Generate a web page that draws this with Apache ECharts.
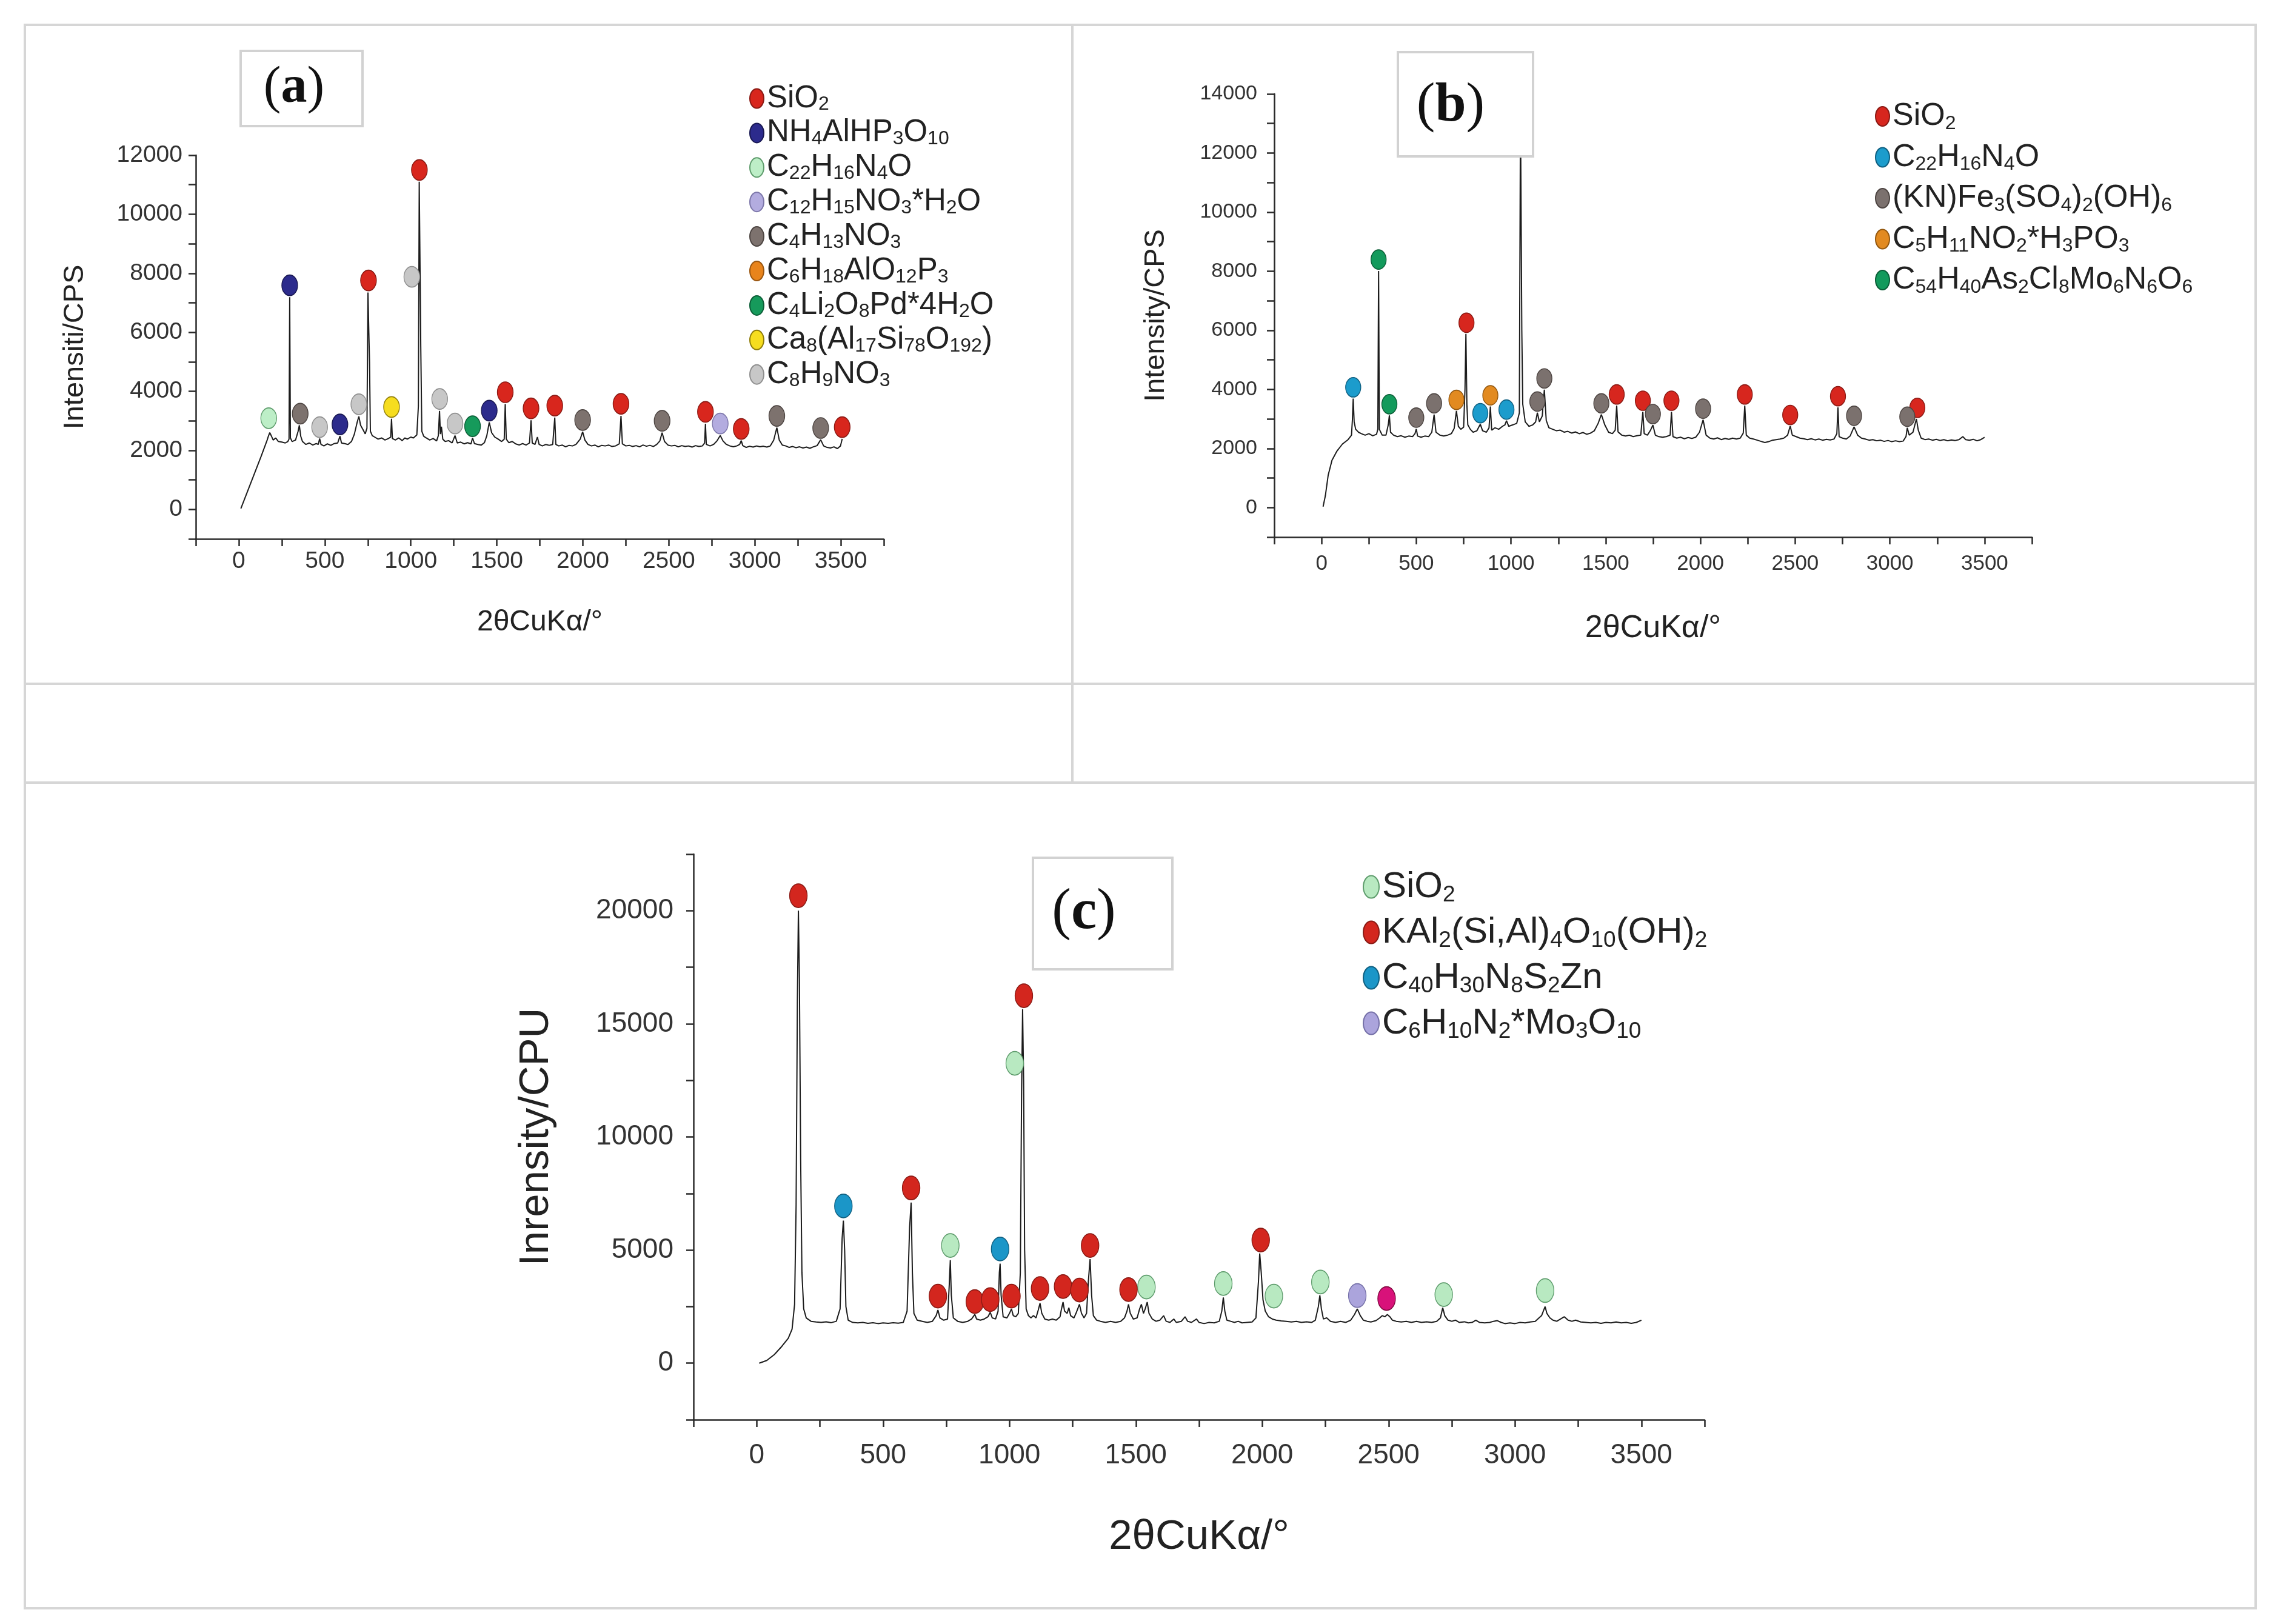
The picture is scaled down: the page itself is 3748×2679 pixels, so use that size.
<!DOCTYPE html>
<html>
<head>
<meta charset="utf-8">
<script src="https://cdn.jsdelivr.net/npm/echarts@6/dist/echarts.min.js"></script>
<style>
html,body{margin:0;padding:0;background:#fff;}
#chart{width:3748px;height:2679px;}
</style>
</head>
<body>
<div id="chart"></div>
<script>
// ---------------- DATA ----------------
// tick labels
const xTickLabels = [0, 500, 1000, 1500, 2000, 2500, 3000, 3500];
const aYTickLabels = [0, 2000, 4000, 6000, 8000, 10000, 12000];
const bYTickLabels = [0, 2000, 4000, 6000, 8000, 10000, 12000, 14000];
const cYTickLabels = [0, 5000, 10000, 15000, 20000];

// Panel (a) diffraction pattern [2θ, intensity]
const aPattern = [[12,30],[50,600],[90,1200],[130,1800],[165,2350],[172,2480],[180,2600],[190,2480],[200,2350],[215,2420],[230,2300],[250,2280],[270,2250],[285,2300],[292,2380],[296,7190],[300,2420],[310,2300],[330,2350],[345,2650],[352,2850],[360,2480],[370,2300],[390,2200],[410,2250],[430,2180],[450,2230],[462,2200],[470,2400],[478,2200],[495,2150],[515,2220],[535,2170],[555,2230],[575,2250],[588,2480],[597,2250],[615,2230],[635,2200],[655,2300],[672,2550],[688,2950],[698,3150],[708,2850],[722,2700],[735,2560],[745,2750],[751,7350],[756,6000],[760,5000],[765,2650],[776,2500],[790,2450],[810,2380],[830,2420],[850,2350],[870,2400],[883,2450],[888,3070],[893,2400],[910,2350],[930,2420],[950,2330],[965,2420],[980,2380],[1000,2450],[1015,2420],[1035,2520],[1044,3500],[1049,11100],[1054,8000],[1058,5500],[1064,2650],[1075,2480],[1090,2420],[1110,2350],[1130,2400],[1150,2320],[1160,2500],[1167,3340],[1172,2550],[1178,2800],[1186,2380],[1200,2300],[1220,2330],[1240,2250],[1257,2500],[1270,2250],[1290,2280],[1310,2220],[1330,2260],[1350,2220],[1359,2420],[1370,2230],[1390,2200],[1410,2180],[1428,2260],[1442,2500],[1456,2950],[1470,2600],[1488,2450],[1508,2380],[1528,2300],[1543,2380],[1549,3570],[1555,2380],[1570,2260],[1590,2300],[1610,2220],[1630,2180],[1650,2230],[1670,2180],[1690,2250],[1699,3020],[1706,2250],[1722,2200],[1736,2450],[1746,2200],[1765,2150],[1785,2200],[1805,2170],[1825,2200],[1837,3110],[1843,2200],[1860,2150],[1880,2180],[1900,2120],[1920,2170],[1940,2150],[1960,2200],[1985,2380],[1999,2630],[2012,2350],[2030,2200],[2050,2150],[2070,2180],[2090,2120],[2110,2170],[2130,2150],[2150,2180],[2170,2130],[2190,2150],[2212,2220],[2222,3170],[2230,2220],[2250,2150],[2270,2170],[2290,2130],[2310,2160],[2330,2120],[2350,2180],[2370,2140],[2390,2170],[2410,2130],[2430,2200],[2448,2320],[2461,2600],[2475,2300],[2495,2180],[2515,2150],[2535,2170],[2555,2120],[2575,2160],[2595,2130],[2615,2150],[2635,2110],[2655,2160],[2675,2130],[2695,2150],[2708,2250],[2713,2900],[2718,2200],[2740,2150],[2760,2200],[2780,2320],[2799,2500],[2815,2320],[2835,2200],[2855,2150],[2875,2120],[2895,2150],[2912,2200],[2921,2330],[2930,2160],[2950,2100],[2970,2140],[2990,2110],[3010,2150],[3030,2120],[3050,2140],[3070,2110],[3090,2150],[3110,2350],[3128,2770],[3142,2350],[3160,2180],[3180,2150],[3200,2100],[3220,2130],[3240,2090],[3260,2120],[3280,2080],[3300,2110],[3320,2070],[3340,2120],[3362,2160],[3383,2360],[3400,2150],[3420,2100],[3440,2080],[3460,2120],[3480,2060],[3498,2150],[3508,2390]];

// Panel (a) phase markers [2θ, intensity]
const aSiO2 = [[754,7758],[1050,11500],[1549,3970],[1699,3424],[1837,3515],[2222,3576],[2713,3303],[2921,2727],[3508,2788]];
const aNH4AlHP3O10 = [[296,7591],[588,2879],[1456,3348]];
const aC22H16N4O = [[174,3091]];
const aC12H15NO3H2O = [[2799,2909]];
const aC4H13NO3 = [[357,3242],[1999,3030],[2461,3000],[3128,3167],[3383,2758]];
const aC6H18AlO12P3 = [];
const aC4Li2O8Pd = [[1359,2818]];
const aCa8 = [[888,3470]];
const aC8H9NO3 = [[470,2788],[698,3561],[1006,7879],[1168,3742],[1257,2909]];

// Panel (b) diffraction pattern
const bPattern = [[8,30],[20,400],[35,1100],[55,1600],[80,1900],[110,2150],[140,2300],[158,2450],[163,3000],[167,3690],[172,2900],[180,2650],[195,2550],[210,2500],[230,2450],[250,2500],[270,2430],[290,2480],[297,2650],[301,8010],[305,2650],[320,2450],[340,2450],[352,2800],[358,3120],[364,2550],[380,2450],[400,2400],[420,2430],[440,2380],[460,2420],[480,2400],[493,2500],[500,2660],[507,2420],[525,2380],[545,2420],[565,2400],[582,2550],[594,3150],[604,2550],[625,2450],[645,2420],[665,2450],[685,2500],[700,2680],[712,3270],[722,2750],[735,2650],[750,2720],[757,4000],[762,5880],[767,3500],[772,2800],[785,2650],[800,2550],[820,2600],[838,2820],[850,2600],[870,2550],[884,2700],[891,3420],[898,2620],[915,2700],[935,2650],[955,2750],[968,2800],[976,2940],[988,2750],[1010,2800],[1030,2850],[1044,3200],[1050,13500],[1057,6000],[1062,3500],[1075,2900],[1095,2750],[1115,2800],[1130,2900],[1139,3210],[1150,2900],[1165,3100],[1176,3990],[1186,2950],[1200,2700],[1220,2650],[1240,2600],[1260,2620],[1280,2550],[1300,2580],[1320,2520],[1340,2560],[1360,2500],[1380,2540],[1400,2480],[1420,2520],[1440,2600],[1460,2850],[1477,3150],[1495,2800],[1515,2550],[1535,2500],[1550,2620],[1558,3450],[1565,2560],[1585,2450],[1605,2420],[1625,2450],[1645,2400],[1665,2430],[1685,2450],[1696,3240],[1703,2500],[1720,2450],[1735,2600],[1749,2790],[1762,2450],[1780,2400],[1800,2380],[1820,2400],[1840,2450],[1847,3240],[1855,2400],[1875,2350],[1895,2380],[1915,2330],[1935,2370],[1955,2340],[1975,2380],[1995,2550],[2014,2970],[2030,2450],[2050,2350],[2070,2320],[2090,2360],[2110,2300],[2130,2340],[2150,2310],[2170,2350],[2190,2320],[2210,2350],[2226,2520],[2234,3450],[2242,2450],[2260,2350],[2280,2320],[2300,2280],[2320,2240],[2340,2200],[2360,2230],[2380,2280],[2400,2300],[2420,2320],[2440,2350],[2460,2450],[2474,2760],[2485,2450],[2505,2400],[2525,2350],[2545,2330],[2565,2300],[2585,2330],[2605,2290],[2625,2320],[2645,2280],[2665,2310],[2685,2290],[2705,2320],[2720,2500],[2726,3390],[2732,2400],[2750,2350],[2770,2320],[2790,2420],[2811,2730],[2830,2450],[2850,2350],[2870,2320],[2890,2280],[2910,2300],[2930,2260],[2950,2280],[2970,2240],[2990,2270],[3010,2230],[3030,2260],[3050,2230],[3070,2250],[3085,2400],[3092,2700],[3102,2450],[3122,2550],[3140,3000],[3150,2620],[3165,2350],[3185,2300],[3205,2320],[3225,2280],[3245,2310],[3265,2270],[3285,2300],[3305,2260],[3325,2290],[3345,2270],[3365,2300],[3385,2400],[3400,2300],[3420,2280],[3440,2310],[3460,2260],[3480,2300],[3500,2380]];

// Panel (b) phase markers
const bSiO2 = [[765,6255],[1558,3828],[1696,3617],[1847,3617],[2234,3828],[2474,3135],[2726,3768],[3145,3376]];
const bC22H16N4O = [[167,4069],[838,3195],[976,3316]];
const bKNFe = [[500,3044],[594,3527],[1139,3587],[1176,4371],[1477,3527],[1749,3165],[2014,3346],[2811,3105],[3092,3075]];
const bC5H11 = [[712,3647],[891,3798]];
const bC54H40 = [[301,8394],[358,3497]];

// Panel (c) diffraction pattern
const cPattern = [[10,0],[40,120],[70,380],[100,750],[125,1100],[140,1500],[150,2600],[156,7000],[161,16000],[165,20000],[169,17000],[174,9000],[179,4000],[186,2400],[196,2000],[215,1850],[235,1820],[255,1800],[275,1830],[295,1790],[315,1850],[330,2400],[338,5500],[343,6300],[348,5000],[353,2500],[362,1900],[380,1800],[400,1780],[420,1800],[440,1760],[460,1790],[480,1750],[500,1780],[520,1760],[540,1790],[560,1770],[580,1800],[595,2300],[605,6000],[611,7100],[616,4000],[622,2200],[635,1900],[655,1850],[675,1800],[695,1850],[710,2100],[717,2350],[725,2000],[740,1900],[755,1950],[762,3500],[766,4550],[770,3000],[778,2000],[795,1850],[815,1800],[835,1850],[850,1950],[863,2150],[870,1950],[885,1900],[900,1950],[915,2050],[924,2250],[932,2000],[945,1950],[955,2300],[960,4000],[963,4400],[967,3000],[975,2050],[990,2000],[1000,2200],[1008,2400],[1015,2100],[1025,2050],[1035,2200],[1043,4000],[1048,12000],[1052,15650],[1056,12500],[1060,5000],[1066,2400],[1075,2100],[1085,2000],[1095,2100],[1105,2000],[1114,2350],[1121,2650],[1128,2200],[1140,1950],[1155,1900],[1170,1950],[1185,1900],[1200,2050],[1205,2350],[1212,2700],[1218,2300],[1228,2200],[1235,2450],[1242,2100],[1255,2000],[1265,2250],[1277,2600],[1285,2200],[1295,2000],[1305,2200],[1312,3600],[1319,4600],[1325,3000],[1332,2100],[1345,1900],[1360,1850],[1380,1800],[1400,1850],[1420,1800],[1440,1850],[1455,2000],[1465,2300],[1471,2600],[1478,2200],[1490,1950],[1505,2000],[1515,2400],[1522,2600],[1530,2200],[1537,2400],[1545,2700],[1552,2200],[1565,1950],[1580,1850],[1595,1900],[1610,2100],[1620,1850],[1635,1800],[1650,1950],[1660,1800],[1680,1850],[1695,2050],[1705,1850],[1720,1800],[1740,1950],[1750,1800],[1770,1750],[1790,1800],[1810,1780],[1830,1850],[1840,2300],[1846,2900],[1852,2300],[1860,1900],[1875,1850],[1890,1800],[1905,1850],[1920,1780],[1940,1800],[1960,1820],[1975,2000],[1985,3600],[1990,4850],[1996,4000],[2003,2800],[2012,2300],[2025,2050],[2040,1950],[2055,1900],[2075,1870],[2095,1850],[2115,1820],[2135,1850],[2155,1800],[2175,1830],[2195,1800],[2210,1900],[2222,2500],[2228,3000],[2234,2400],[2242,1950],[2255,2000],[2270,1850],[2290,1800],[2310,1850],[2330,1800],[2350,1900],[2365,2150],[2376,2400],[2388,2100],[2400,1900],[2415,1850],[2430,1820],[2450,1880],[2465,2000],[2475,2100],[2485,2050],[2495,2150],[2505,2050],[2515,1900],[2530,1850],[2550,1820],[2570,1850],[2590,1800],[2610,1850],[2630,1800],[2650,1830],[2670,1800],[2690,1850],[2705,2000],[2714,2450],[2722,2100],[2735,1900],[2750,1850],[2765,1900],[2780,1800],[2800,1830],[2815,1780],[2830,1800],[2845,1900],[2860,1800],[2880,1780],[2900,1800],[2915,1850],[2930,1880],[2945,1800],[2960,1750],[2980,1780],[3000,1750],[3020,1800],[3040,1780],[3060,1820],[3080,1850],[3095,2000],[3105,2100],[3112,2300],[3119,2500],[3126,2200],[3138,2000],[3150,1900],[3165,1850],[3180,1950],[3195,2050],[3210,1900],[3225,1850],[3240,1900],[3260,1820],[3280,1800],[3300,1780],[3320,1800],[3340,1760],[3360,1800],[3380,1780],[3400,1820],[3420,1780],[3440,1800],[3460,1760],[3480,1800],[3500,1900]];

// Panel (c) phase markers
const cSiO2 = [[766,5199],[1021,13254],[1542,3363],[1846,3518],[2046,2965],[2230,3584],[2718,3031],[3119,3208]];
const cKAl2 = [[165,20664],[611,7743],[717,2965],[863,2721],[924,2810],[1008,2965],[1057,16239],[1121,3296],[1212,3385],[1277,3230],[1319,5199],[1471,3252],[1994,5442]];
const cC40H30 = [[343,6947],[963,5044]];
const cC6H10 = [[2376,2987]];
const cOther = [[2492,2854]];

// ---------------- STYLE / LAYOUT ----------------
const FONT = "'Liberation Sans', Arial, Helvetica, sans-serif";
const SERIF = "'Liberation Serif', 'DejaVu Serif', serif";
const ELLIPSE = 'path://M50 0A50 50 0 1 1 50 100A50 50 0 1 1 50 0Z';
const chart = echarts.init(document.getElementById('chart'), null, {renderer: 'canvas'});

function xAxisCfg(gi, fs, margin, titleFs, gap) {
  return {
    type: 'value', gridIndex: gi, min: -250, max: 3750, interval: 250,
    axisLine: {show: true, onZero: false, lineStyle: {color: '#2a2a2a', width: 2.5}},
    axisTick: {show: true, length: 12, lineStyle: {color: '#2a2a2a', width: 2.5}},
    splitLine: {show: false},
    axisLabel: {
      show: true, margin: margin, fontSize: fs, color: '#333', fontFamily: FONT,
      formatter: v => (xTickLabels.indexOf(v) >= 0 ? String(v) : '')
    },
    name: '2θCuKα/°', nameLocation: 'middle', nameGap: gap,
    nameTextStyle: {fontSize: titleFs, color: '#222', fontFamily: FONT}
  };
}
function yAxisCfg(gi, min, max, interval, labels, fs, margin, name, titleFs, gap) {
  return {
    type: 'value', gridIndex: gi, min: min, max: max, interval: interval,
    axisLine: {show: true, onZero: false, lineStyle: {color: '#2a2a2a', width: 2.5}},
    axisTick: {show: true, length: 12, lineStyle: {color: '#2a2a2a', width: 2.5}},
    splitLine: {show: false},
    axisLabel: {
      show: true, margin: margin, fontSize: fs, color: '#333', fontFamily: FONT,
      formatter: v => (labels.indexOf(v) >= 0 ? String(v) : '')
    },
    name: name, nameLocation: 'middle', nameGap: gap, nameRotate: 90,
    nameTextStyle: {fontSize: titleFs, color: '#222', fontFamily: FONT}
  };
}
function lineSeries(idx, data) {
  return {type: 'line', xAxisIndex: idx, yAxisIndex: idx, data: data, showSymbol: false, symbol: 'none',
    lineStyle: {color: '#1c1c1c', width: 2}, z: 2, silent: true};
}
function phase(idx, name, data, color, border, size) {
  return {type: 'scatter', name: name, xAxisIndex: idx, yAxisIndex: idx, data: data,
    symbol: ELLIPSE, symbolSize: size, symbolKeepAspect: false,
    itemStyle: {color: color, borderColor: border, borderWidth: 1.5, opacity: 1}, z: 5, silent: true};
}
function richName(name) {
  const s = name.slice(2);
  return '{n|' + s.replace(/([A-Za-z\)])(\d+)/g, '$1}{s|$2}{n|') + '}';
}
function legendCfg(names, left, top, fs, lh, gap, iw, ih) {
  return {
    data: names, orient: 'vertical', left: left, top: top, icon: ELLIPSE,
    itemWidth: iw, itemHeight: ih, itemGap: gap, selectedMode: false, padding: 0,
    symbolKeepAspect: false,
    formatter: richName,
    textStyle: {
      color: '#222', fontFamily: FONT, fontSize: fs,
      rich: {
        n: {fontSize: fs, lineHeight: lh, fontFamily: FONT, color: '#222'},
        s: {fontSize: Math.round(fs * 0.62), lineHeight: Math.round(fs * 0.66), verticalAlign: 'bottom', fontFamily: FONT, color: '#222'}
      }
    }
  };
}

const sa = [26, 34], sb = [25, 32], sc = [29, 39];
const series = [
  lineSeries(0, aPattern), lineSeries(1, bPattern), lineSeries(2, cPattern),
  phase(0, 'a|SiO2', aSiO2, '#d8261d', '#8a1a14', sa),
  phase(0, 'a|NH4AlHP3O10', aNH4AlHP3O10, '#2c2b8c', '#191852', sa),
  phase(0, 'a|C22H16N4O', aC22H16N4O, '#bdeec7', '#5e9c6c', sa),
  phase(0, 'a|C12H15NO3*H2O', aC12H15NO3H2O, '#b3acdf', '#7d77aa', sa),
  phase(0, 'a|C4H13NO3', aC4H13NO3, '#7d726e', '#4d4542', sa),
  phase(0, 'a|C6H18AlO12P3', aC6H18AlO12P3, '#e8841c', '#9a5610', sa),
  phase(0, 'a|C4Li2O8Pd*4H2O', aC4Li2O8Pd, '#169a5b', '#0c5e37', sa),
  phase(0, 'a|Ca8(Al17Si78O192)', aCa8, '#f6dd1f', '#8f7d0a', sa),
  phase(0, 'a|C8H9NO3', aC8H9NO3, '#c7c7c7', '#8f8f8f', sa),
  phase(1, 'b|SiO2', bSiO2, '#d7261e', '#8a1a14', sb),
  phase(1, 'b|C22H16N4O', bC22H16N4O, '#1c9ccc', '#0f5f80', sb),
  phase(1, 'b|(KN)Fe3(SO4)2(OH)6', bKNFe, '#7b716e', '#4d4542', sb),
  phase(1, 'b|C5H11NO2*H3PO3', bC5H11, '#e28a20', '#935810', sb),
  phase(1, 'b|C54H40As2Cl8Mo6N6O6', bC54H40, '#139a5c', '#0b5e37', sb),
  phase(2, 'c|SiO2', cSiO2, '#b8e9c1', '#5e9c6c', sc),
  phase(2, 'c|KAl2(Si,Al)4O10(OH)2', cKAl2, '#d3261e', '#8a1a14', sc),
  phase(2, 'c|C40H30N8S2Zn', cC40H30, '#1b96c8', '#0f5f80', sc),
  phase(2, 'c|C6H10N2*Mo3O10', cC6H10, '#aba4dc', '#7570a8', sc),
  phase(2, 'c|other', cOther, '#d8127a', '#80093f', sc)
];

const frame = {stroke: '#d6d6d6', lineWidth: 4, fill: null};
function labelBox(x, y, w, h, tx, ty, letter, fs) {
  return [
    {type: 'rect', shape: {x: x, y: y, width: w, height: h}, style: {fill: '#fff', stroke: '#d2d2d2', lineWidth: 4}, z: 100},
    {type: 'text', x: tx, y: ty, z: 101, style: {
      text: '{p|(}{b|' + letter + '}{p|)}', align: 'center', verticalAlign: 'middle',
      rich: {
        p: {fontSize: fs, fontFamily: SERIF, fill: '#111'},
        b: {fontSize: fs, fontWeight: 'bold', fontFamily: SERIF, fill: '#111'}
      }
    }}
  ];
}

const option = {
  backgroundColor: '#ffffff',
  animation: false,
  grid: [
    {left: 323, top: 256, width: 1135, height: 633, outerBoundsMode: 'none', containLabel: false},
    {left: 2102, top: 155, width: 1250, height: 731, outerBoundsMode: 'none', containLabel: false},
    {left: 1144, top: 1409, width: 1668, height: 933, outerBoundsMode: 'none', containLabel: false}
  ],
  xAxis: [
    xAxisCfg(0, 39, 18, 48, 114),
    xAxisCfg(1, 35, 27, 52, 125),
    xAxisCfg(2, 46, 36, 69, 159)
  ],
  yAxis: [
    yAxisCfg(0, -1000, 12000, 1000, aYTickLabels, 39, 22, 'Intensiti/CPS', 47, 175),
    yAxisCfg(1, -1000, 14000, 1000, bYTickLabels, 34, 28, 'Intensity/CPS', 47, 171),
    yAxisCfg(2, -2500, 22500, 2500, cYTickLabels, 46, 33, 'Inrensity/CPU', 69, 225)
  ],
  legend: [
    legendCfg(series.slice(3, 12).map(s => s.name), 1236, 137, 51, 52, 5.4, 23, 32),
    legendCfg(series.slice(12, 17).map(s => s.name), 3093, 166, 52, 56, 13.5, 23, 32),
    legendCfg(series.slice(17, 21).map(s => s.name), 2248, 1433, 60, 64, 13, 26, 37)
  ],
  graphic: [
    {type: 'rect', shape: {x: 41, y: 41, width: 3680, height: 2612}, style: frame, z: 0, silent: true},
    {type: 'line', shape: {x1: 41, y1: 1128, x2: 3721, y2: 1128}, style: {stroke: '#d6d6d6', lineWidth: 4}, silent: true},
    {type: 'line', shape: {x1: 41, y1: 1291, x2: 3721, y2: 1291}, style: {stroke: '#d6d6d6', lineWidth: 4}, silent: true},
    {type: 'line', shape: {x1: 1769, y1: 41, x2: 1769, y2: 1291}, style: {stroke: '#d6d6d6', lineWidth: 4}, silent: true}
  ].concat(
    labelBox(397, 84, 201, 124, 485, 146, 'a', 86),
    labelBox(2306, 86, 223, 172, 2393, 175, 'b', 92),
    labelBox(1704, 1415, 230, 184, 1788, 1506, 'c', 95)
  ),
  series: series
};
chart.setOption(option);
</script>
</body>
</html>
